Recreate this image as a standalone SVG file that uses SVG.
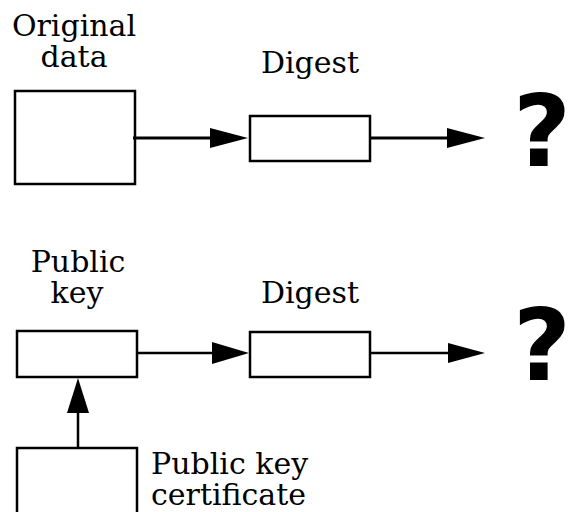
<svg xmlns="http://www.w3.org/2000/svg" width="571" height="512" viewBox="0 0 571 512">
<style>
.box{fill:#fff;stroke:#000;stroke-width:2.5}
.lbl{font-family:"DejaVu Serif","Liberation Serif",serif;font-size:30px;fill:#000}
.q{font-family:"DejaVu Sans","Liberation Sans",sans-serif;font-weight:bold;font-size:100px;fill:#000}
.ln{stroke:#000;fill:none}
.hd{fill:#000}
</style>
<rect width="571" height="512" fill="#fff"/>
<g id="original-data">
<rect class="box" x="15" y="91" width="120" height="93"/>
<text class="lbl" x="74" y="36" text-anchor="middle">Original</text>
<text class="lbl" x="74" y="67" text-anchor="middle">data</text>
</g>
<g id="digest1">
<rect class="box" x="250" y="116" width="120" height="45"/>
<text class="lbl" x="310" y="73" text-anchor="middle">Digest</text>
</g>
<g id="question1">
<text class="q" x="513" y="166">?</text>
</g>
<g id="public-key">
<rect class="box" x="17" y="331" width="120" height="46"/>
<text class="lbl" x="78" y="272" text-anchor="middle">Public</text>
<text class="lbl" x="77" y="303" text-anchor="middle">key</text>
</g>
<g id="digest2">
<rect class="box" x="250" y="332" width="120" height="45"/>
<text class="lbl" x="310" y="303" text-anchor="middle">Digest</text>
</g>
<g id="question2">
<text class="q" x="513" y="380">?</text>
</g>
<g id="certificate">
<rect class="box" x="17" y="448" width="120" height="66"/>
<text class="lbl" x="151" y="474">Public key</text>
<text class="lbl" x="151" y="505">certificate</text>
</g>
<g id="connectors">
<line class="ln" x1="133" y1="138" x2="212" y2="138" stroke-width="3"/>
<polygon class="hd" points="210,128 248,138 210,148"/>
<line class="ln" x1="370" y1="138" x2="449" y2="138" stroke-width="3"/>
<polygon class="hd" points="447,128 485,138 447,148"/>
<line class="ln" x1="137" y1="353" x2="214" y2="353" stroke-width="2.5"/>
<polygon class="hd" points="212,342 249,353 212,364"/>
<line class="ln" x1="370" y1="353" x2="450" y2="353" stroke-width="2.5"/>
<polygon class="hd" points="448,343 485,353 448,363"/>
<line class="ln" x1="78" y1="448" x2="78" y2="411" stroke-width="2.5"/>
<polygon class="hd" points="67,413 78,378 89,413"/>
</g>
</svg>
